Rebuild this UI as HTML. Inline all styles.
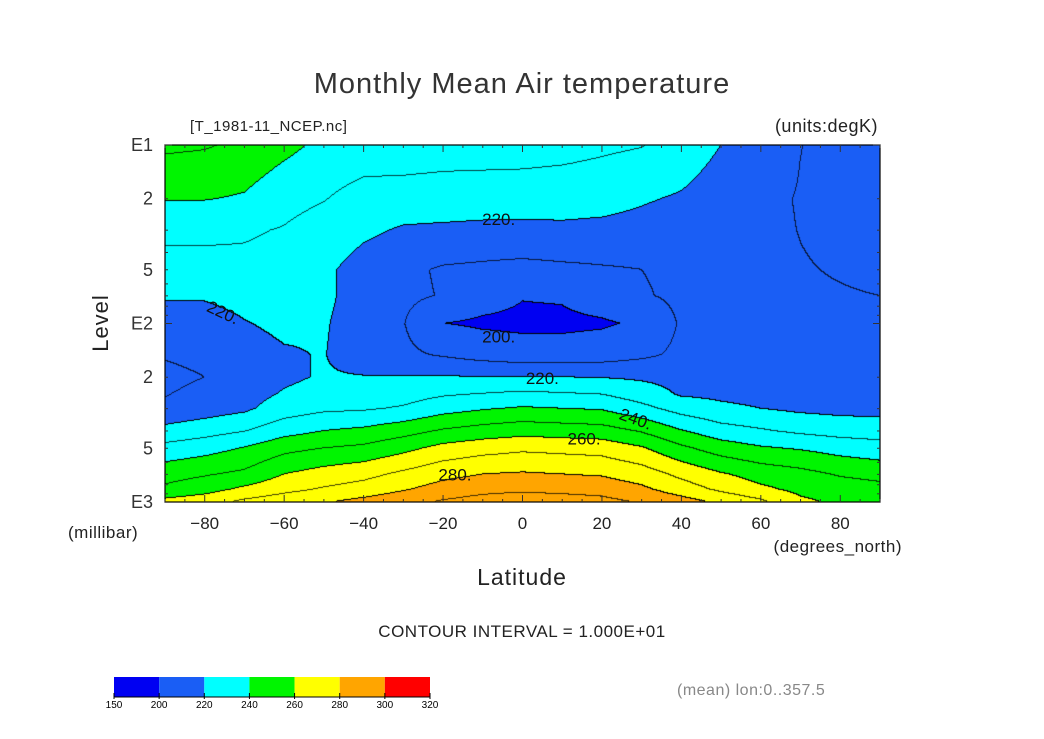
<!DOCTYPE html>
<html><head><meta charset="utf-8"><style>
body{margin:0;background:#fff;}
#wrap{position:relative;width:1044px;height:739px;overflow:hidden;background:#fff;font-family:"Liberation Sans",sans-serif;color:#222;}
.t{position:absolute;white-space:nowrap;line-height:1;}
</style></head><body>
<div id="wrap">
<div class="t" style="left:0;width:1044px;text-align:center;top:70px;font-size:29px;letter-spacing:1px;color:#333;">Monthly Mean Air temperature</div>
<div class="t" style="left:190px;top:119px;font-size:15px;letter-spacing:0.5px;">[T_1981-11_NCEP.nc]</div>
<div class="t" style="right:166px;top:117px;font-size:18px;letter-spacing:0.5px;">(units:degK)</div>
<div class="t" style="left:72px;top:312px;font-size:22px;transform:rotate(-90deg);letter-spacing:1px;">Level</div>
<div class="t" style="left:68px;top:524px;font-size:17px;letter-spacing:0.5px;">(millibar)</div>
<div class="t" style="right:142px;top:538px;font-size:17px;letter-spacing:0.5px;">(degrees_north)</div>
<div class="t" style="left:0;width:1044px;text-align:center;top:566px;font-size:23px;letter-spacing:1px;">Latitude</div>
<div class="t" style="left:0;width:1044px;text-align:center;top:623px;font-size:17px;letter-spacing:0.5px;">CONTOUR INTERVAL = 1.000E+01</div>
<div class="t" style="left:677px;top:683px;font-size:16px;color:#888;letter-spacing:0.5px;">(mean) lon:0..357.5</div>
<canvas id="cv" width="715" height="357" style="position:absolute;left:165px;top:145px;"></canvas>
<svg id="sv" width="1044" height="739" style="position:absolute;left:0;top:0;"></svg>
</div>
<script>
const lats=[-90,-80,-70,-60,-50,-40,-30,-20,-10,0,10,20,30,40,50,60,70,80,90];
const levels=[10,20,30,50,70,100,150,200,250,300,400,500,700,850,1000];
const temps=[
[252,251,248,243,237.5,236,236,235,235,235,234,232,230.5,226,220,217,210.2,207,206],
[240.5,240.5,239,233,230.5,226,225.5,225,224.5,224,223.5,223,221,219,215,212,209.5,207,206],
[232,232,231,229.5,226,222,219,218.5,218,218,218.5,218,217,215,213,212,209.8,208,207.5],
[227,227,228,227,222,216,212,209,208,207,208,209,210,212,213,212,210.5,209.5,208.5],
[221,221,223,225,222,216,212,209.5,204,200.5,201,205,209,212,213,212.5,211,210.5,210],
[216,216,219.5,222,221,215,210.5,200.1,198.5,198,198,198.8,201.5,211,213,212,211.5,211,211],
[211,213,216,219,220.5,214,212,209,206,204,204,205,208,212,213,212,211.5,211,211],
[207,210,214,218,221,220.5,220.5,220.5,220.3,220.2,220,219.5,218.5,217,216,215.5,215,214.5,214],
[209.5,213,216,221,224,224.5,226,229,230.5,232,231,230,225,219,218,217,216,215.5,215],
[212,215,218,225,228,228.8,231,236,239,241,240,239,233,226,222,220,218,217,216.5],
[223,226,229.5,236,240,242,246,251,254,256,255,254,249,240.5,234,231,228,226,225.6],
[233,236,240.5,247,250,252,257,263,266,268,267,266,261,252,245,241,239,236,233.7],
[246,249,252,260,264,267,272,277,280,281,280,279,275,267.5,261,256,253,249,247],
[252,256,262,267,271,274,279,284,287,288,287,286,282,275,268,262,257.6,255,253],
[263,266,272,276,279,283,287,291,294,296,295,293,289,284,278,272,262,258,259.5]];
const cbLevels=[150,200,220,240,260,280,300,320];
const cbColors=["#0000f2","#1a5ef5","#00ffff","#00f500","#ffff00","#ffa500","#ff0000"];
const xTicks=[-80,-60,-40,-20,0,20,40,60,80];
const yLabels=[[10,"E1"],[20,"2"],[50,"5"],[100,"E2"],[200,"2"],[500,"5"],[1000,"E3"]];
const contourLabels=[[220,-6,26,0],[220,-76,86,25],[200,-6,118,0],[220,5,202,0],[240,28,340,20],[260,15.5,440,0],[280,-17,700,0]];

const PX0=165,PY0=145,PW=715,PH=357;
const xs=lat=>PX0+(lat+90)/180*PW;
const ys=p=>PY0+Math.log10(p/10)/2*PH;
const NS="http://www.w3.org/2000/svg";
const sv=document.getElementById('sv');
function mk(tag,attrs,parent){const e=document.createElementNS(NS,tag);for(const k in attrs)e.setAttribute(k,attrs[k]);(parent||sv).appendChild(e);return e;}
function colorOf(v){for(let i=0;i<cbColors.length;i++){if(v<cbLevels[i+1])return cbColors[i];}return cbColors[cbColors.length-1];}
function hex(c){return [parseInt(c.substr(1,2),16),parseInt(c.substr(3,2),16),parseInt(c.substr(5,2),16)];}
const lp=levels.map(p=>Math.log10(p));
function field(lat,p){
  let fi=(lat+90)/10;fi=Math.max(0,Math.min(lats.length-1.0001,fi));const i=Math.floor(fi),a=fi-i;
  const l=Math.log10(p);let j=0;while(j<lp.length-2&&l>lp[j+1])j++;
  let b=(l-lp[j])/(lp[j+1]-lp[j]);b=Math.max(0,Math.min(1,b));
  const r0=temps[j],r1=temps[j+1];
  return (r0[i]*(1-a)+r0[i+1]*a)*(1-b)+(r1[i]*(1-a)+r1[i+1]*a)*b;
}
const cv=document.getElementById('cv'),ctx=cv.getContext('2d');
const img=ctx.createImageData(PW,PH);const T=new Float32Array(PW*PH);
for(let y=0;y<PH;y++){const p=10*Math.pow(10,(y+0.5)/PH*2);for(let x=0;x<PW;x++){const lat=(x+0.5)/PW*180-90;T[y*PW+x]=field(lat,p);}}
for(let y=0;y<PH;y++)for(let x=0;x<PW;x++){
  const k=y*PW+x,v=T[k];let c=hex(colorOf(v));const bin=Math.floor(v/10);
  let edge=false;
  if(x<PW-1&&Math.floor(T[k+1]/10)!==bin)edge=true;
  if(y<PH-1&&Math.floor(T[k+PW]/10)!==bin)edge=true;
  if(edge){const lv=Math.max(bin,Math.floor((x<PW-1?T[k+1]:v)/10),Math.floor((y<PH-1?T[k+PW]:v)/10))*10;
    const strong=(lv%20===0);c=strong?[0,0,0]:c.map(q=>Math.round(q*0.25));}
  img.data[k*4]=c[0];img.data[k*4+1]=c[1];img.data[k*4+2]=c[2];img.data[k*4+3]=255;}
ctx.putImageData(img,0,0);
const fr=mk('rect',{x:PX0,y:PY0,width:PW,height:PH,fill:'none',stroke:'#000','stroke-width':1.2});


for(let lat=-90;lat<=90;lat+=5){const x=xs(lat);const maj=(lat+80)%20===0;const len=maj?7:3;
  mk('line',{x1:x,y1:PY0,x2:x,y2:PY0+len,stroke:'#333','stroke-width':1});
  mk('line',{x1:x,y1:PY0+PH,x2:x,y2:PY0+PH-len,stroke:'#333','stroke-width':1});}
xTicks.forEach(v=>{const t=mk('text',{x:xs(v),y:529,'text-anchor':'middle','font-size':17,'font-family':'Liberation Sans, sans-serif',fill:'#222'});t.textContent=(v<0?'\u2212'+(-v):v);
  
  });
for(let d=10;d<=100;d*=10){for(let m=1;m<=9;m++){const p=d*m;if(p>1000)break;const y=ys(p);const len=m===1?7:3;
  mk('line',{x1:PX0,y1:y,x2:PX0+len,y2:y,stroke:'#333','stroke-width':1});
  mk('line',{x1:PX0+PW,y1:y,x2:PX0+PW-len,y2:y,stroke:'#333','stroke-width':1});}}
yLabels.forEach(([p,s])=>{const t=mk('text',{x:153,y:ys(p)+6,'text-anchor':'end','font-size':18,'font-family':'Liberation Sans, sans-serif',fill:'#333'});t.textContent=s;
  
  });
contourLabels.forEach(([v,lat,p,rot])=>{const x=xs(lat),y=ys(p)+6;const t=mk('text',{x:x,y:y,'text-anchor':'middle','font-size':17,'font-family':'Liberation Sans, sans-serif',fill:'#111',transform:'rotate('+rot+' '+x+' '+y+')'});t.textContent=v+'.';
  
  });
const CB0=114,CB1=430,CBY=677,CBH=20;const cbx=v=>CB0+(cbLevels.indexOf(v))/(cbLevels.length-1)*(CB1-CB0);
cbColors.forEach((c,i)=>{const r=mk('rect',{x:cbx(cbLevels[i]),y:CBY,width:cbx(cbLevels[i+1])-cbx(cbLevels[i]),height:CBH,fill:c});
  
  });
mk('line',{x1:CB0,y1:CBY+CBH,x2:CB1,y2:CBY+CBH,stroke:'#000','stroke-width':1});
cbLevels.forEach(v=>{const x=cbx(v);mk('line',{x1:x,y1:CBY+CBH-4,x2:x,y2:CBY+CBH+2,stroke:'#000','stroke-width':1});
  const t=mk('text',{x:x,y:708,'text-anchor':'middle','font-size':10,'font-family':'Liberation Sans, sans-serif',fill:'#000'});t.textContent=v;
  
  });
</script>
</body></html>
